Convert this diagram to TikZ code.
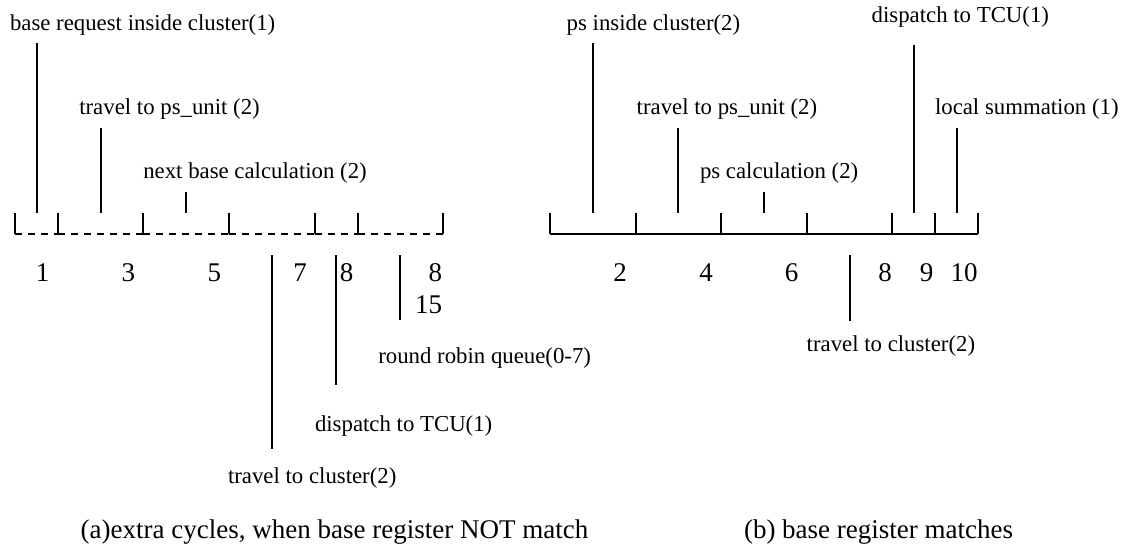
\documentclass[tikz,border=0pt]{standalone}
\usepackage{fontspec}
\setmainfont{Liberation Serif}
\begin{document}
\begin{tikzpicture}[x=1pt,y=-1pt,
  every node/.style={inner sep=0pt,outer sep=0pt,font=\fontsize{22.8}{27}\selectfont},
  lbl/.style={anchor=base west},
  big/.style={font=\fontsize{27}{32}\selectfont},
  num/.style={big,anchor=base},
  rnum/.style={big,anchor=base east},
  captiontext/.style={big,anchor=base west},
  bar/.style={line width=1.7pt},
  rail/.style={line width=1.7pt,dash pattern=on 7pt off 6pt},
  solidrail/.style={line width=1.7pt}]
\useasboundingbox (0,0) rectangle (1129,548);

% ---------- (a) left time line ----------
% tick positions along the rail
\foreach \n/\x in {0/15,1/58.3,3/143.3,5/229,7/314.7,8/357.7,10/443.3}{
  \coordinate (lt\n) at (\x,213);
  \coordinate (lb\n) at (\x,234.3);
  \draw[bar] (lt\n) -- (lb\n);
}
\foreach \a/\b in {0/1,1/3,3/5,5/7,7/8,8/10}{
  \draw[rail] (lb\a) -- (lb\b);
}

% labels above
\node[lbl] (a1) at (10,30.7) {base request inside cluster(1)};
\node[lbl] (a2) at (79.3,115) {travel to ps\_unit (2)};
\node[lbl] (a3) at (143.3,178.3) {next base calculation (2)};
\coordinate (a1t) at (36.7,43.3);   \coordinate (a1b) at (36.7,213);
\coordinate (a2t) at (100.7,128.3); \coordinate (a2b) at (100.7,213);
\coordinate (a3t) at (186,191.7);   \coordinate (a3b) at (186,213);
\draw[bar] (a1t) -- (a1b);
\draw[bar] (a2t) -- (a2b);
\draw[bar] (a3t) -- (a3b);

% cycle numbers
\node[num] (n1) at (42.7,281.7) {1};
\node[num] (n3) at (128.3,281.7) {3};
\node[num] (n5) at (214.3,281.7) {5};
\node[num] (n7) at (300,281.7) {7};
\node[num] (n8) at (346.5,281.7) {8};
\node[rnum] (n8b) at (442,281.7) {8};
\node[rnum] (n15) at (442,313.3) {15};

% labels below
\node[lbl] (a4) at (378.3,363.3) {round robin queue(0-7)};
\node[lbl] (a5) at (315,431.7) {dispatch to TCU(1)};
\node[lbl] (a6) at (228,483) {travel to cluster(2)};
\coordinate (a4t) at (400,255);   \coordinate (a4b) at (400,320);
\coordinate (a5t) at (336,255);   \coordinate (a5b) at (336,385);
\coordinate (a6t) at (271.7,255); \coordinate (a6b) at (271.7,449);
\draw[bar] (a4t) -- (a4b);
\draw[bar] (a5t) -- (a5b);
\draw[bar] (a6t) -- (a6b);

% ---------- (b) right time line ----------
\foreach \n/\x in {0/550,2/635.7,4/721,6/806.7,8/892.3,9/935,10/977.7}{
  \coordinate (rt\n) at (\x,213);
  \coordinate (rb\n) at (\x,234.3);
  \draw[bar] (rt\n) -- (rb\n);
}
\draw[solidrail] (rb0) -- (rb10);

\node[lbl] (b1) at (566.7,30.7) {ps inside cluster(2)};
\node[lbl] (b2) at (636.7,115) {travel to ps\_unit (2)};
\node[lbl] (b3) at (700,178.3) {ps calculation (2)};
\node[lbl] (b4) at (871.7,23) {dispatch to TCU(1)};
\node[lbl] (b5) at (935,115) {local summation (1)};
\coordinate (b1t) at (593.3,43.3);  \coordinate (b1b) at (593.3,213);
\coordinate (b2t) at (678.3,128.3); \coordinate (b2b) at (678.3,213);
\coordinate (b3t) at (764,191.7);   \coordinate (b3b) at (764,213);
\coordinate (b4t) at (914,45);      \coordinate (b4b) at (914,213);
\coordinate (b5t) at (956.7,128.3); \coordinate (b5b) at (956.7,213);
\draw[bar] (b1t) -- (b1b);
\draw[bar] (b2t) -- (b2b);
\draw[bar] (b3t) -- (b3b);
\draw[bar] (b4t) -- (b4b);
\draw[bar] (b5t) -- (b5b);

\node[num] (m2) at (620,281.7) {2};
\node[num] (m4) at (706,281.7) {4};
\node[num] (m6) at (791.7,281.7) {6};
\node[num] (m8) at (885,281.7) {8};
\node[num] (m9) at (926.7,281.7) {9};
\node[num] (m10) at (964,281.7) {10};

\node[lbl] (b6) at (806.7,351.7) {travel to cluster(2)};
\coordinate (b6t) at (850,255); \coordinate (b6b) at (850,320.7);
\draw[bar] (b6t) -- (b6b);

% ---------- captions ----------
\node[captiontext] (capa) at (80.7,538.3) {(a)extra cycles, when base register NOT match};
\node[captiontext] (capb) at (744,538.3) {(b) base register matches};
\end{tikzpicture}
\end{document}
